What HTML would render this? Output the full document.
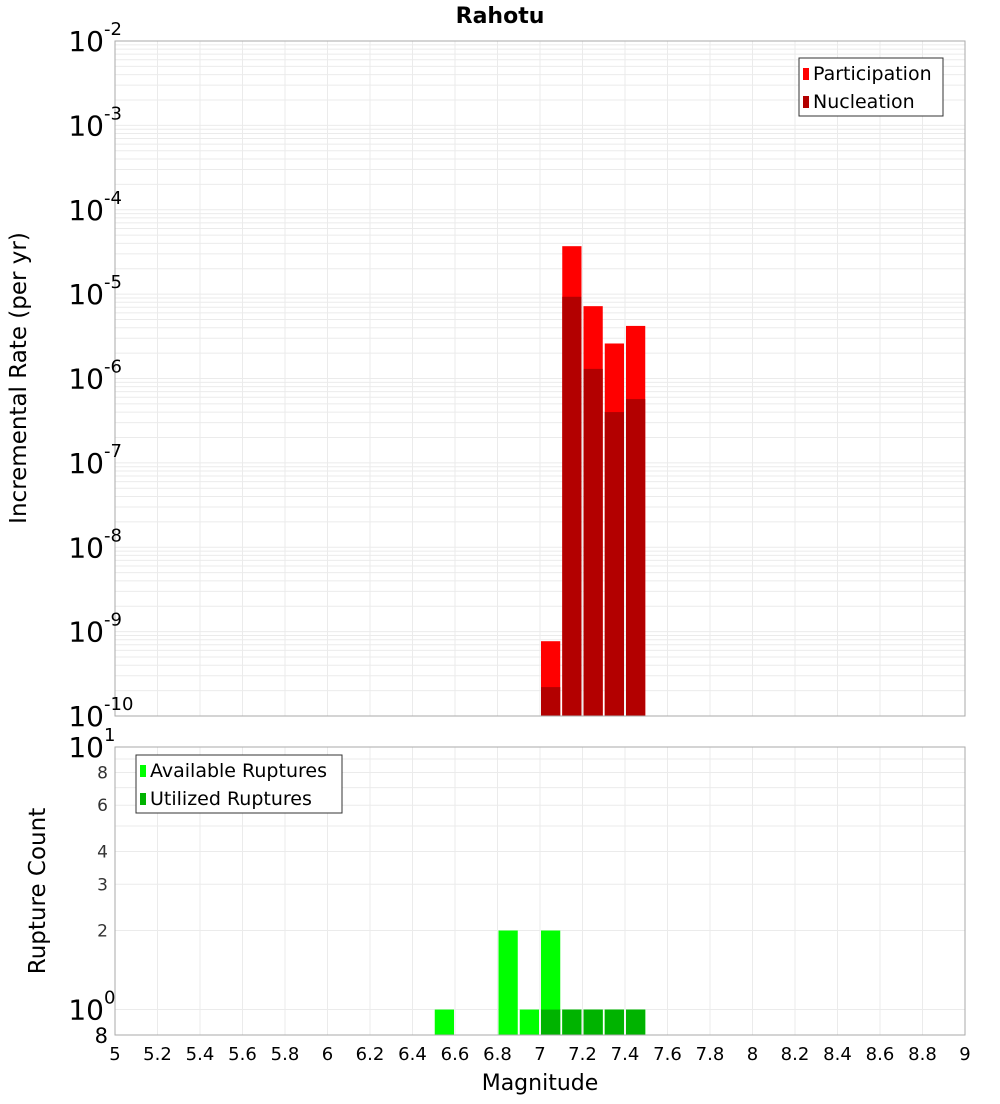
<!DOCTYPE html>
<html><head><meta charset="utf-8"><style>
body{margin:0;background:#fff;font-family:"DejaVu Sans","Liberation Sans",sans-serif}
svg text{font-family:"DejaVu Sans","Liberation Sans",sans-serif}
</style></head><body>
<svg id="c" width="1000" height="1100" xmlns="http://www.w3.org/2000/svg"></svg>
<script>
const binCenters=[7.05,7.15,7.25,7.35,7.45];
const participation=[7.7e-10,3.7e-5,7.2e-6,2.6e-6,4.2e-6];
const nucleation=[2.2e-10,9.3e-6,1.3e-6,4.0e-7,5.7e-7];
const availCenters=[6.55,6.85,6.95,7.05,7.15,7.25,7.35,7.45];
const available=[1,2,1,2,1,1,1,1];
const utilCenters=[7.05,7.15,7.25,7.35,7.45];
const utilized=[1,1,1,1,1];
const xTicks=[5,5.2,5.4,5.6,5.8,6,6.2,6.4,6.6,6.8,7,7.2,7.4,7.6,7.8,8,8.2,8.4,8.6,8.8,9];
const topExps=[-2,-3,-4,-5,-6,-7,-8,-9,-10];
const botTicks=[2,3,4,6,8];

const svg=document.getElementById('c');const NS='http://www.w3.org/2000/svg';
function mk(t,a,p){const e=document.createElementNS(NS,t);for(const k in a)e.setAttribute(k,a[k]);(p||svg).appendChild(e);return e;}
const X0=115,X1=965;
const xs=m=>X0+(m-5)/4*(X1-X0);
const T0=41,T1=716;
const yt=v=>T0+(-2-Math.log10(v))*(T1-T0)/8;
const B0=747,B1=1035;
const yb=v=>B0+(1-Math.log10(v))*(B1-B0)/(1-Math.log10(0.8));

let t=mk('text',{x:500,y:23,'text-anchor':'middle','font-size':22,'font-weight':'bold'});t.textContent='Rahotu';


const gTop=mk('g',{});

for(let e=-10;e<-2;e++)for(let k=1;k<10;k++){const y=yt(k*Math.pow(10,e));mk('line',{x1:X0,x2:X1,y1:y,y2:y,stroke:'#ebebeb','stroke-width':1},gTop);}
xTicks.forEach(m=>mk('line',{x1:xs(m),x2:xs(m),y1:T0,y2:T1,stroke:'#ebebeb'},gTop));
const gBot=mk('g',{});

for(let k=1;k<=10;k++){const y=yb(k);mk('line',{x1:X0,x2:X1,y1:y,y2:y,stroke:'#ebebeb'},gBot);}
xTicks.forEach(m=>mk('line',{x1:xs(m),x2:xs(m),y1:B0,y2:B1,stroke:'#ebebeb'},gBot));

const bw=xs(5.1)-xs(5);
binCenters.forEach((m,i)=>{
 let r=mk('rect',{x:xs(m-0.05)+1,y:yt(participation[i]),width:bw-2,height:T1-yt(participation[i]),fill:'#ff0000'});
 
 r=mk('rect',{x:xs(m-0.05)+1,y:yt(nucleation[i]),width:bw-2,height:T1-yt(nucleation[i]),fill:'#b30000'});
 
});
availCenters.forEach((m,i)=>{
 const r=mk('rect',{x:xs(m-0.05)+1,y:yb(available[i]),width:bw-2,height:B1-yb(available[i]),fill:'#00ff00'});
 
});
utilCenters.forEach((m,i)=>{
 const r=mk('rect',{x:xs(m-0.05)+1,y:yb(utilized[i]),width:bw-2,height:B1-yb(utilized[i]),fill:'#00b300'});
 
});

let f=mk('rect',{x:X0,y:T0,width:X1-X0,height:T1-T0,fill:'none',stroke:'#aaa'});

f=mk('rect',{x:X0,y:B0,width:X1-X0,height:B1-B0,fill:'none',stroke:'#aaa'});


function pow10(y,e,name){
 const g=mk('g',{});
 const a=mk('text',{x:104,y:y+10,'text-anchor':'end','font-size':28},g);a.textContent='10';
 const b=mk('text',{x:104,y:y-6,'text-anchor':'start','font-size':18},g);b.textContent=e;
}
topExps.forEach(e=>pow10(yt(Math.pow(10,e)),String(e),'top-y-tick-label'));
[[10,'1'],[1,'0']].forEach(([v,e])=>pow10(yb(v),e,'bottom-y-tick-label'));
botTicks.forEach(v=>{
 const l=mk('text',{x:108,y:yb(v)+6,'text-anchor':'end','font-size':17,fill:'#333'});l.textContent=String(v);
 
});
let l8=mk('text',{x:108,y:1043,'text-anchor':'end','font-size':21});l8.textContent='8';


xTicks.forEach(m=>{
 const l=mk('text',{x:xs(m),y:1060,'text-anchor':'middle','font-size':18});l.textContent=String(m);
 
});
let xt=mk('text',{x:540,y:1090,'text-anchor':'middle','font-size':22});xt.textContent='Magnitude';

let y1=mk('text',{x:0,y:0,'text-anchor':'middle','font-size':23,transform:'translate(26,378) rotate(-90)'});y1.textContent='Incremental Rate (per yr)';

let y2=mk('text',{x:0,y:0,'text-anchor':'middle','font-size':23,transform:'translate(45,891) rotate(-90)'});y2.textContent='Rupture Count';


function legend(x,y,w,items,name){
 const g=mk('g',{});
 mk('rect',{x:x,y:y,width:w,height:58,fill:'#fff',stroke:'#333'},g);
 items.forEach(([c,s],i)=>{
  mk('rect',{x:x+4,y:y+10+i*28,width:6,height:12,fill:c},g);
  const tx=mk('text',{x:x+14,y:y+22+i*28,'font-size':19},g);tx.textContent=s;
 });
}
legend(799,58,144,[['#ff0000','Participation'],['#b30000','Nucleation']],'top-legend');
legend(136,755,206,[['#00ff00','Available Ruptures'],['#00b300','Utilized Ruptures']],'bottom-legend');
</script>
</body></html>
